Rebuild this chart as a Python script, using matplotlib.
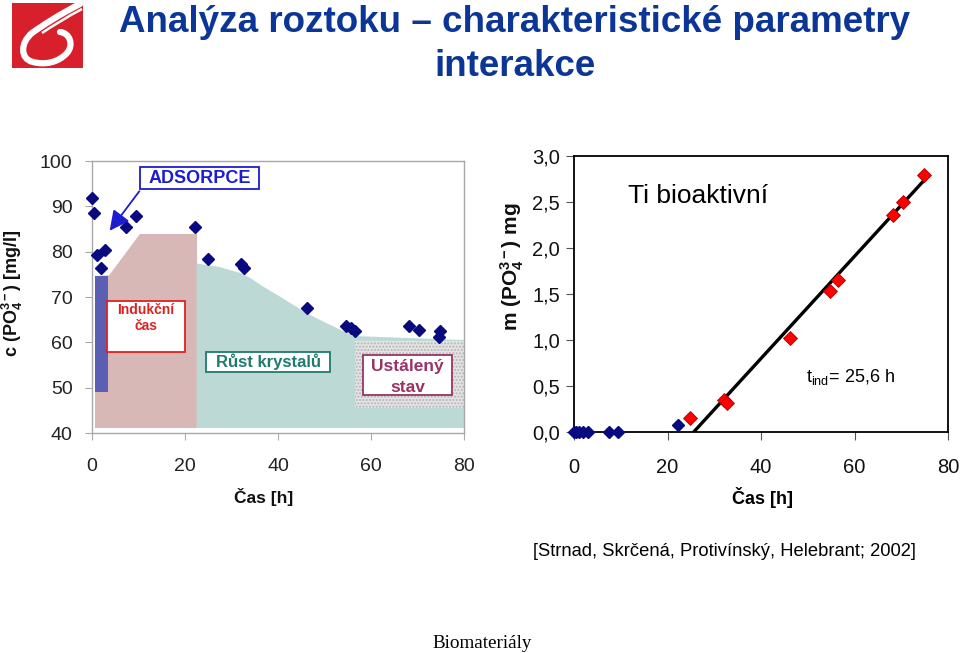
import matplotlib
matplotlib.use("Agg")
import matplotlib.pyplot as plt
from matplotlib.patches import Rectangle, Polygon, FancyArrowPatch, PathPatch
from matplotlib.path import Path

plt.rcParams['font.family'] = ['Liberation Sans', 'DejaVu Sans']
plt.rcParams['mathtext.fontset'] = 'custom'
plt.rcParams['mathtext.rm'] = 'Liberation Sans'
plt.rcParams['mathtext.bf'] = 'Liberation Sans:bold'
plt.rcParams['mathtext.it'] = 'Liberation Sans:italic'

# ---------------- data ----------------
# left chart: concentration of phosphate in solution
time_c = [0, 0.4, 1.1, 1.9, 2.8, 7.3, 9.5, 22.2, 24.9, 32.0, 32.7, 46.2, 54.6, 55.7, 56.6, 68.2, 70.3, 74.8, 74.6]
conc_c = [91.8, 88.5, 79.3, 76.4, 80.4, 85.4, 87.9, 85.4, 78.4, 77.3, 76.4, 67.6, 63.6, 63.1, 62.5, 63.6, 62.7, 62.5, 61.2]

# shaded phase regions (left chart)
induction_x = [0.65, 3.4]
induction_y = [49.1, 74.6]
adsorption_x = [0.65, 0.65, 3.7, 10.3, 22.6, 22.6]
adsorption_y = [41.1, 74.6, 74.8, 83.9, 83.9, 41.1]
growth_x = [22.5, 27.5, 32.2, 34.5, 36.8, 40.4, 46.2, 50.5, 56.2, 80.0, 80.0, 22.5]
growth_y = [77.4, 76.6, 75.2, 73.9, 72.3, 70.1, 66.4, 64.2, 61.4, 60.5, 41.1, 41.1]
steady_x = [56.6, 80.0]
steady_y = [45.5, 60.3]

# right chart: mass of phosphate deposited
time_m_blue = [0, 0.5, 1.0, 2.0, 3.0, 7.5, 9.5, 22.2]
mass_m_blue = [0, 0, 0, 0, 0, 0, 0, 0.08]
time_m_red = [24.9, 32.0, 32.7, 46.2, 54.8, 56.5, 68.2, 70.4, 74.9]
mass_m_red = [0.15, 0.35, 0.32, 1.02, 1.53, 1.65, 2.36, 2.50, 2.79]
fit_x = [25.6, 75.5]
fit_y = [0.0, 2.77]

x_ticks = [0, 20, 40, 60, 80]
c_ticks = [40, 50, 60, 70, 80, 90, 100]
m_ticks = [0.0, 0.5, 1.0, 1.5, 2.0, 2.5, 3.0]
m_ticklabels = ['0,0', '0,5', '1,0', '1,5', '2,0', '2,5', '3,0']

W, H = 960, 653
def fx(px):
    return px / W
def fy(py):
    return 1 - py / H

fig = plt.figure(figsize=(9.6, 6.53), dpi=100)

NAVY = '#0a0a80'
GRAY = '#a8a8a8'

# ---------------- logo ----------------
lax = fig.add_axes([fx(12), fy(68), fx(83) - fx(12), fy(3) - fy(68)])
lax.set_xlim(0, 71)
lax.set_ylim(65, 0)
lax.axis('off')
lax.add_patch(Rectangle((0, 0), 71, 65, color='#d8202c'))
verts = [(68, 1), (50, 10), (31, 22), (20, 30),
         (8, 40), (8, 56), (21, 59),
         (32, 62), (46, 60), (55, 50),
         (62, 42), (58, 30), (48, 29)]
codes = [Path.MOVETO, Path.CURVE4, Path.CURVE4, Path.CURVE4,
         Path.CURVE4, Path.CURVE4, Path.CURVE4,
         Path.CURVE4, Path.CURVE4, Path.CURVE4,
         Path.CURVE4, Path.CURVE4, Path.CURVE4]
lax.add_patch(PathPatch(Path(verts, codes), fill=False, ec='white', lw=4.5, capstyle='round'))
verts2 = [(70, 6), (55, 14), (42, 22), (30, 30)]
lax.add_patch(PathPatch(Path(verts2, [Path.MOVETO, Path.CURVE4, Path.CURVE4, Path.CURVE4]),
                        fill=False, ec='white', lw=1.8))

# ---------------- title ----------------
TITLE_C = '#0b3596'
fig.text(fx(515), fy(22), 'Analýza roztoku – charakteristické parametry', ha='center', va='center',
         fontsize=26.5, fontweight='bold', color=TITLE_C)
fig.text(fx(515), fy(66), 'interakce', ha='center', va='center',
         fontsize=26.5, fontweight='bold', color=TITLE_C)

# ---------------- left chart ----------------
ax1 = fig.add_axes([fx(92), fy(433), fx(464) - fx(92), fy(161) - fy(433)])
ax1.set_xlim(0, 80)
ax1.set_ylim(40, 100)
ax1.add_patch(Polygon(list(zip(adsorption_x, adsorption_y)), closed=True, fc='#d8b8b6', ec='none', zorder=1))
ax1.add_patch(Polygon(list(zip(growth_x, growth_y)), closed=True, fc='#bdd9d6', ec='none', zorder=1))
ax1.add_patch(Rectangle((induction_x[0], induction_y[0]), induction_x[1] - induction_x[0],
                        induction_y[1] - induction_y[0], fc='#5b5fb3', ec='none', zorder=2))
ax1.add_patch(Rectangle((steady_x[0], steady_y[0]), steady_x[1] - steady_x[0],
                        steady_y[1] - steady_y[0], fc='#e4e4e4', ec='#b4b4b4', lw=0,
                        hatch='.....', zorder=2))
ax1.plot(time_c, conc_c, ls='none', marker='D', ms=6.5, color=NAVY, mec=NAVY, zorder=5, clip_on=False)
ax1.set_xticks(x_ticks)
ax1.set_yticks(c_ticks)
ax1.tick_params(axis='both', direction='out', length=5, color=GRAY, labelsize=14, labelcolor='#222222')
ax1.tick_params(axis='y', pad=9)
ax1.tick_params(axis='x', pad=13)
for s in ax1.spines.values():
    s.set_color(GRAY)
    s.set_linewidth(1.0)

fig.text(fx(12), fy(293), r'c (PO$_\mathbf{4}^\mathbf{3-}$) [mg/l]', rotation=90, ha='center', va='center',
         fontsize=13, fontweight='bold', color='#111111')
fig.text(fx(264), fy(497), 'Čas [h]', ha='center', va='center', fontsize=12.5, fontweight='bold', color='#111111')

# annotation boxes (figure pixel positions)
def box(x0, y0, x1, y1, color, lw=1.3):
    fig.patches.append(Rectangle((fx(x0), fy(y1)), fx(x1) - fx(x0), fy(y0) - fy(y1),
                                 transform=fig.transFigure, fc='white', ec=color, lw=lw, zorder=6))

box(140, 167, 259, 189, '#1c1cd0')
fig.text(fx(199.5), fy(178.5), 'ADSORPCE', ha='center', va='center', fontsize=13, fontweight='bold',
         color='#1c1cd0', zorder=7)
arr = FancyArrowPatch((fx(141), fy(189)), (fx(108), fy(233)), transform=fig.transFigure,
                      arrowstyle='-|>,head_length=12,head_width=6', mutation_scale=1,
                      color='#1c1cd0', lw=1.3, zorder=7)
fig.patches.append(arr)

box(107, 301, 185, 352, '#dd2222')
fig.text(fx(146), fy(310), 'Indukční', ha='center', va='center', fontsize=10, fontweight='bold',
         color='#dd2222', zorder=7)
fig.text(fx(146), fy(326), 'čas', ha='center', va='center', fontsize=10, fontweight='bold',
         color='#dd2222', zorder=7)

box(206, 352, 330, 372, '#1f7a70')
fig.text(fx(268), fy(362), 'Růst krystalů', ha='center', va='center', fontsize=12, fontweight='bold',
         color='#1f7a70', zorder=7)

box(363, 355, 452, 395, '#993366')
fig.text(fx(407.5), fy(367), 'Ustálený', ha='center', va='center', fontsize=12.5, fontweight='bold',
         color='#993366', zorder=7)
fig.text(fx(407.5), fy(387), 'stav', ha='center', va='center', fontsize=12.5, fontweight='bold',
         color='#993366', zorder=7)

# ---------------- right chart ----------------
ax2 = fig.add_axes([fx(574), fy(432), fx(948) - fx(574), fy(156) - fy(432)])
ax2.set_xlim(0, 80)
ax2.set_ylim(0, 3.0)
ax2.plot(fit_x, fit_y, color='black', lw=2.4, zorder=3)
ax2.plot(time_m_blue, mass_m_blue, ls='none', marker='D', ms=6.5, color=NAVY, mec=NAVY, zorder=5, clip_on=False)
ax2.plot(time_m_red, mass_m_red, ls='none', marker='D', ms=7, color='#ff0000', mec='#b00000', mew=0.6,
         zorder=5, clip_on=False)
ax2.set_xticks(x_ticks)
ax2.set_yticks(m_ticks)
ax2.set_yticklabels(m_ticklabels)
ax2.tick_params(axis='both', direction='out', length=6, color='#555555', labelsize=14.5, labelcolor='#111111')
ax2.tick_params(axis='y', pad=4)
ax2.tick_params(axis='x', pad=13)
for s in ax2.spines.values():
    s.set_color('black')
    s.set_linewidth(1.3)

ax2.text(0.145, 0.855, 'Ti bioaktivní', transform=ax2.transAxes, ha='left', va='center',
         fontsize=19, color='black')
ax2.text(0.62, 0.2, r't$_{\mathrm{ind}}$= 25,6 h', transform=ax2.transAxes, ha='left', va='center',
         fontsize=13, color='black')

fig.text(fx(512), fy(267), r'm (PO$_\mathbf{4}^\mathbf{3-}$) mg', rotation=90, ha='center', va='center',
         fontsize=15, fontweight='bold', color='#111111')
fig.text(fx(763), fy(497), 'Čas [h]', ha='center', va='center', fontsize=13, fontweight='bold', color='black')

# ---------------- footer ----------------
fig.text(fx(724), fy(551), '[Strnad, Skrčená, Protivínský, Helebrant; 2002]', ha='center', va='center',
         fontsize=13.2, color='black')
fig.text(fx(482), fy(643), 'Biomateriály', ha='center', va='center', fontsize=13.8,
         family=['Liberation Serif', 'DejaVu Serif'], color='black')

fig.savefig('out.png', dpi=100)
